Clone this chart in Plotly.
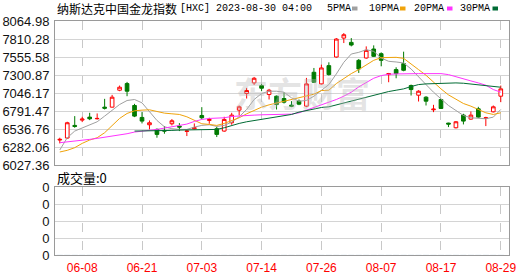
import plotly.graph_objects as go

# ---------------- data ----------------
dates = [
    "2023-06-05", "2023-06-06", "2023-06-07", "2023-06-08", "2023-06-09",
    "2023-06-12", "2023-06-13", "2023-06-14", "2023-06-15", "2023-06-16",
    "2023-06-20", "2023-06-21", "2023-06-22", "2023-06-23", "2023-06-26",
    "2023-06-27", "2023-06-28", "2023-06-29", "2023-06-30", "2023-07-03",
    "2023-07-05", "2023-07-06", "2023-07-07", "2023-07-10", "2023-07-11",
    "2023-07-12", "2023-07-13", "2023-07-14", "2023-07-17", "2023-07-18",
    "2023-07-19", "2023-07-20", "2023-07-21", "2023-07-24", "2023-07-25",
    "2023-07-26", "2023-07-27", "2023-07-28", "2023-07-31", "2023-08-01",
    "2023-08-02", "2023-08-03", "2023-08-04", "2023-08-07", "2023-08-08",
    "2023-08-09", "2023-08-10", "2023-08-11", "2023-08-14", "2023-08-15",
    "2023-08-16", "2023-08-17", "2023-08-18", "2023-08-21", "2023-08-22",
    "2023-08-23", "2023-08-24", "2023-08-25", "2023-08-28", "2023-08-29",
]

open_ = [6380.6, 6408.8, 6587.4, 6662.6, 6704.9, 6681.4, 6845.9, 6845.9, 7085.6, 7179.6,
         6869.4, 6700.2, 6596.8, 6531.0, 6516.9, 6610.9, 6578.0, 6502.8, 6540.4, 6728.4,
         6657.9, 6540.4, 6507.5, 6625.0, 6803.6, 7038.6, 7189.0, 7151.4, 7024.5, 7001.0,
         6968.1, 6874.1, 6930.5, 6860.0, 7339.4, 7174.9, 7433.4, 7555.6, 7823.5, 7762.4,
         7508.6, 7541.5, 7668.4, 7602.6, 7306.5, 7377.0, 7461.6, 7151.4, 7015.1, 6986.9,
         6808.3, 6954.0, 6620.3, 6554.5, 6733.1, 6676.7, 6822.4, 6686.1, 6780.1, 7001.0]
high = [6413.5, 6639.1, 6719.0, 6709.6, 6766.0, 6756.6, 6963.4, 7019.8, 7151.4, 7203.1,
        6892.9, 6775.4, 6657.9, 6545.1, 6578.0, 6676.7, 6620.3, 6521.6, 6615.6, 6845.9,
        6695.5, 6568.6, 6709.6, 6766.0, 6869.4, 7118.5, 7273.6, 7174.9, 7104.4, 7010.4,
        7057.4, 6930.5, 6954.0, 7259.5, 7400.5, 7447.5, 7480.4, 7823.5, 7894.0, 7823.5,
        7527.4, 7706.0, 7720.1, 7621.4, 7330.0, 7409.9, 7630.8, 7165.5, 7085.6, 7001.0,
        6878.8, 6963.4, 6625.0, 6648.5, 6751.9, 6784.8, 6850.6, 6709.6, 6869.4, 7151.4]
low = [6333.6, 6399.4, 6554.5, 6634.4, 6662.6, 6672.0, 6813.0, 6841.2, 7071.5, 7001.0,
       6704.9, 6615.6, 6531.0, 6413.5, 6469.9, 6587.4, 6507.5, 6437.0, 6531.0, 6681.4,
       6610.9, 6422.9, 6498.1, 6596.8, 6728.4, 6968.1, 7160.8, 7071.5, 6954.0, 6813.0,
       6897.6, 6845.9, 6874.1, 6845.9, 7189.0, 7165.5, 7292.4, 7546.2, 7753.0, 7706.0,
       7330.0, 7532.1, 7555.6, 7424.0, 7198.4, 7254.8, 7353.5, 7010.4, 6925.8, 6869.4,
       6775.4, 6822.4, 6563.9, 6545.1, 6601.5, 6667.3, 6695.5, 6578.0, 6770.7, 6916.4]
close = [6390.0, 6625.0, 6573.3, 6676.7, 6681.4, 6686.1, 6831.8, 6986.9, 7127.9, 7071.5,
         6719.0, 6648.5, 6625.0, 6460.5, 6507.5, 6653.2, 6563.9, 6507.5, 6554.5, 6695.5,
         6672.0, 6460.5, 6672.0, 6733.1, 6850.6, 7080.9, 7254.8, 7113.8, 7085.6, 6883.5,
         6916.4, 6860.0, 6888.2, 7174.9, 7198.4, 7400.5, 7306.5, 7809.4, 7870.5, 7724.8,
         7386.4, 7649.6, 7565.0, 7508.6, 7320.6, 7320.6, 7367.6, 7095.0, 7071.5, 6930.5,
         6817.7, 6827.1, 6606.2, 6639.1, 6648.5, 6733.1, 6704.9, 6695.5, 6850.6, 7104.4]

ma5 = [6239.6, 6413.5, 6507.5, 6554.5, 6596.8, 6639.1, 6719.0, 6798.9, 6883.5, 6939.9,
       6954.0, 6907.0, 6789.5, 6657.9, 6568.6, 6540.4, 6531.0, 6531.0, 6563.9, 6587.4,
       6596.8, 6573.3, 6587.4, 6634.4, 6709.6, 6813.0, 6954.0, 7038.6, 7071.5, 7071.5,
       7057.4, 6977.5, 6930.5, 6939.9, 7001.0, 7085.6, 7165.5, 7315.9, 7480.4, 7597.9,
       7621.4, 7659.0, 7635.5, 7541.5, 7494.5, 7485.1, 7471.0, 7386.4, 7283.0, 7165.5,
       7057.4, 6963.4, 6869.4, 6798.9, 6728.4, 6695.5, 6686.1, 6681.4, 6704.9, 6813.0]
ma10 = [6211.4, 6234.9, 6272.5, 6333.6, 6380.6, 6413.5, 6484.0, 6587.4, 6686.1, 6756.6,
        6794.2, 6803.6, 6808.3, 6784.8, 6761.3, 6751.9, 6742.5, 6709.6, 6657.9, 6610.9,
        6601.5, 6587.4, 6615.6, 6657.9, 6695.5, 6751.9, 6798.9, 6845.9, 6878.8, 6902.3,
        6930.5, 6954.0, 6977.5, 6996.3, 7029.2, 7080.9, 7085.6, 7179.6, 7250.1, 7320.6,
        7377.0, 7447.5, 7508.6, 7546.2, 7550.9, 7550.9, 7536.8, 7461.6, 7377.0, 7297.1,
        7198.4, 7104.4, 7019.8, 6954.0, 6897.6, 6860.0, 6813.0, 6766.0, 6742.5, 6766.0]
ma20 = [6343.0, 6352.4, 6361.8, 6375.9, 6390.0, 6404.1, 6418.2, 6432.3, 6451.1, 6469.9,
        6493.4, 6502.8, 6516.9, 6531.0, 6549.8, 6568.6, 6587.4, 6606.2, 6643.8, 6672.0,
        6686.1, 6686.1, 6695.5, 6714.3, 6723.7, 6728.4, 6733.1, 6737.8, 6742.5, 6742.5,
        6747.2, 6747.2, 6766.0, 6803.6, 6841.2, 6878.8, 6911.7, 6954.0, 7001.0, 7057.4,
        7132.6, 7198.4, 7254.8, 7292.4, 7311.2, 7315.9, 7320.6, 7320.6, 7320.6, 7320.6,
        7320.6, 7320.6, 7306.5, 7273.6, 7245.4, 7217.2, 7189.0, 7156.1, 7095.0, 7057.4]
ma30 = [None] * 10 + [
        6507.5, 6507.5, 6512.2, 6512.2, 6516.9, 6516.9, 6521.6, 6521.6, 6526.3, 6531.0,
        6531.0, 6531.0, 6554.5, 6587.4, 6615.6, 6639.1, 6657.9, 6672.0, 6690.8, 6709.6,
        6728.4, 6742.5, 6775.4, 6798.9, 6822.4, 6841.2, 6850.6, 6878.8, 6907.0, 6930.5,
        6954.0, 6986.9, 7019.8, 7048.0, 7066.8, 7085.6, 7104.4, 7137.3, 7165.5, 7174.9,
        7179.6, 7189.0, 7189.0, 7189.0, 7184.3, 7174.9, 7165.5, 7156.1, 7137.3, 7127.9]
volume = [0] * 60

price_ticks = [6027.36, 6282.06, 6536.76, 6791.47, 7046.17, 7300.87, 7555.58, 7810.28, 8064.98]
label_idx = [3, 11, 19, 27, 35, 43, 51, 59]
ma_names = ["5PMA", "10PMA", "20PMA", "30PMA"]
ma_colors = ["#a0a0a0", "#f0a30a", "#ff33ff", "#006b34"]
title_cn = "纳斯达克中国金龙指数"
title_tail = "[HXC] 2023-08-30 04:00"

# ---------------- figure ----------------
W, H = 530, 276
ML, MR, MT, MB = 55, 21, 21, 21
PW, PH = W - ML - MR, H - MT - MB


def px(x):
    return (x - ML) / PW


def py(y):
    return (H - MB - y) / PH


fig = go.Figure()
fig.add_trace(go.Candlestick(
    x=dates, open=open_, high=high, low=low, close=close,
    increasing=dict(line=dict(color="#ff0000", width=1), fillcolor="#ffffff"),
    decreasing=dict(line=dict(color="#007a00", width=1), fillcolor="#007a00"),
    whiskerwidth=0, hoverinfo="skip", showlegend=False,
    xaxis="x", yaxis="y",
))
for vals, c in zip([ma5, ma10, ma20, ma30], ma_colors):
    fig.add_trace(go.Scatter(x=dates, y=vals, mode="lines",
                             line=dict(color=c, width=1), hoverinfo="skip",
                             showlegend=False, xaxis="x", yaxis="y"))
fig.add_trace(go.Bar(x=dates, y=volume, marker_color="#007a00",
                     showlegend=False, hoverinfo="skip", xaxis="x2", yaxis="y2"))

grid_h = "#d4d4d4"
grid_v = "#c8c8c8"
frame = "#9a9a9a"
xr = [-0.64, 60.1]
tickfont = dict(family="Liberation Sans, Arial, sans-serif", size=13, color="#111111")

fig.update_layout(
    width=W, height=H,
    margin=dict(l=ML, r=MR, t=MT, b=MB, pad=0, autoexpand=False),
    paper_bgcolor="white", plot_bgcolor="white",
    showlegend=False,
    xaxis=dict(domain=[0, 1], anchor="y", type="category", range=xr,
               rangeslider=dict(visible=False), automargin=False,
               tickvals=[dates[i] for i in label_idx], showticklabels=False,
               showgrid=True, gridcolor=grid_v, griddash="dash", gridwidth=1,
               showline=True, linecolor=frame, mirror=True, linewidth=1,
               ticks="", zeroline=False),
    yaxis=dict(domain=[py(165), 1], range=[price_ticks[0], price_ticks[-1]],
               tickvals=price_ticks, ticktext=[f"{v:.2f}" for v in price_ticks],
               tickfont=tickfont, showgrid=True, gridcolor=grid_h, gridwidth=1,
               showline=True, linecolor=frame, mirror=True, linewidth=1, automargin=False,
               ticks="", zeroline=False, ticklabelstandoff=2),
    xaxis2=dict(domain=[0, 1], anchor="y2", type="category", range=xr,
                matches="x", automargin=False,
                tickvals=[dates[i] for i in label_idx],
                ticktext=[dates[i][5:] for i in label_idx],
                tickfont=dict(family="Liberation Sans Narrow, Liberation Sans, sans-serif",
                              size=12, color="#ff0000"),
                showgrid=True, gridcolor=grid_v, griddash="dash", gridwidth=1,
                showline=True, linecolor=frame, mirror=True, linewidth=1,
                ticks="", zeroline=False, ticklabelstandoff=2),
    yaxis2=dict(domain=[0, py(187)], range=[0, 4], tickvals=[0, 1, 2, 3, 4],
                ticktext=["0"] * 5, tickfont=tickfont, automargin=False,
                showgrid=True, gridcolor=grid_h, gridwidth=1,
                showline=True, linecolor=frame, mirror=True, linewidth=1,
                ticks="", zeroline=False, ticklabelstandoff=2),
)

ann = []
# watermark
ann.append(dict(text="东方财富", xref="paper", yref="paper", x=px(302), y=py(92),
                xanchor="center", yanchor="middle", showarrow=False,
                font=dict(family="Noto Sans CJK SC", size=34, weight="bold",
                          color="rgba(185,185,185,0.4)")))
# title
ann.append(dict(text=title_cn, xref="paper", yref="paper", x=px(56), y=py(9),
                xanchor="left", yanchor="middle", showarrow=False, borderpad=0,
                font=dict(family="Noto Sans CJK SC", size=12, color="#000000")))
ann.append(dict(text=title_tail, xref="paper", yref="paper", x=px(179), y=py(9),
                xanchor="left", yanchor="middle", showarrow=False, borderpad=0,
                font=dict(family="Liberation Mono, monospace", size=10, color="#000000")))
# MA legend
leg_x = [326, 367.7, 412.7, 459.3]
sq_x = [352, 400, 447, 492.5]
shapes = []
for name, c, lx, sx in zip(ma_names, ma_colors, leg_x, sq_x):
    ann.append(dict(text=name, xref="paper", yref="paper", x=px(lx), y=py(9),
                    xanchor="left", yanchor="middle", showarrow=False, borderpad=0,
                    font=dict(family="Liberation Mono, monospace", size=10, color="#000000")))
    shapes.append(dict(type="rect", xref="paper", yref="paper",
                       x0=px(sx), x1=px(sx + 5.5), y0=py(10.5), y1=py(6.5),
                       fillcolor=c, line=dict(width=0)))
# volume label
ann.append(dict(text="成交量:0", xref="paper", yref="paper", x=px(56), y=py(177),
                xanchor="left", yanchor="middle", showarrow=False, borderpad=0,
                font=dict(family="Noto Sans CJK SC", size=13, color="#000000")))
fig.update_layout(annotations=ann, shapes=shapes)

fig.write_html("out.html")
